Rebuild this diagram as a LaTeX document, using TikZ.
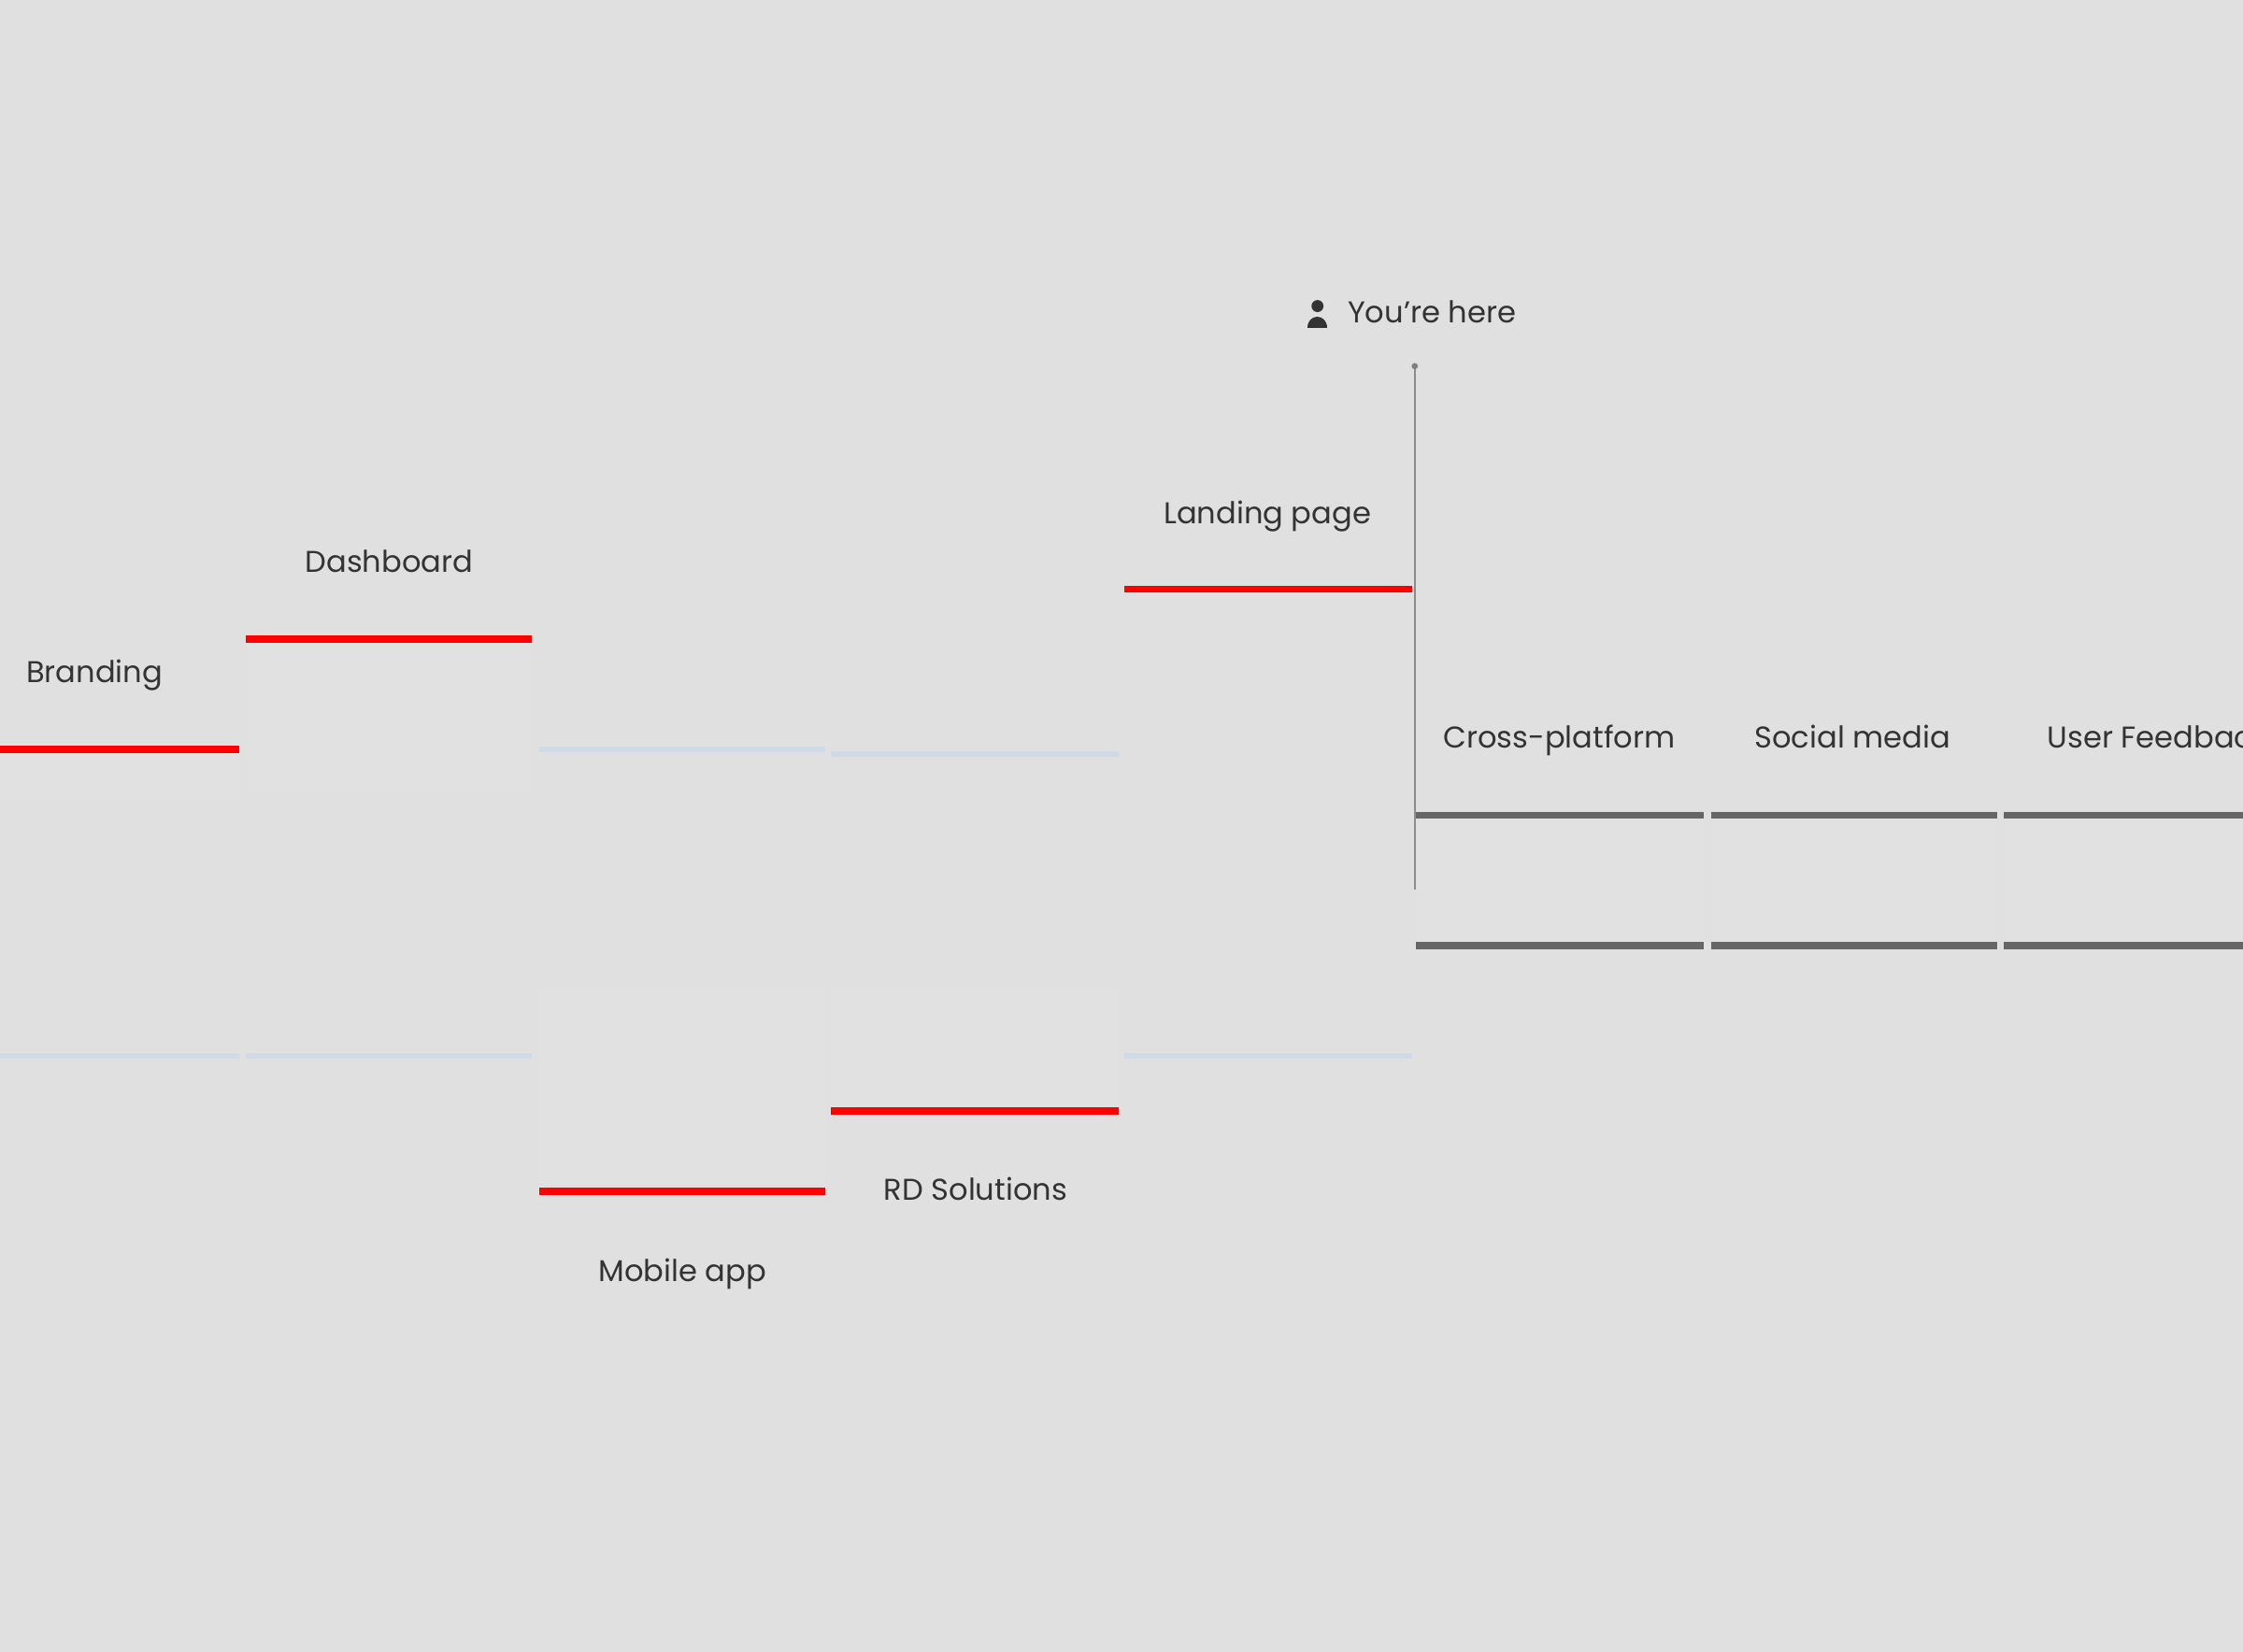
\documentclass[tikz,border=0pt]{standalone}
\usepackage{fontspec}
\setmainfont{Poppins}
\definecolor{bg}{HTML}{E0E0E0}
\definecolor{redbar}{HTML}{FF0000}
\definecolor{bluebar}{HTML}{D0D9E6}
\definecolor{darkbar}{HTML}{666666}
\definecolor{txt}{HTML}{333333}
\begin{document}
\begin{tikzpicture}[x=1pt,y=-1pt,
  lbl/.style={text=txt,font=\fontsize{21}{25}\selectfont,inner sep=0pt,anchor=base,yshift=-7pt},
  rbar/.style={redbar,line width=5pt},
  bbar/.style={bluebar,line width=4pt},
  dbar/.style={darkbar,line width=5pt},
  fade/.style={fill=white,opacity=0.06}]
\useasboundingbox (0,0) rectangle (1568,1155);
\clip (0,0) rectangle (1568,1155);
\fill[bg] (0,0) rectangle (1568,1155);
% faint fades
\fill[fade] (172,450) rectangle (372,555);
\fill[fade] (377,690) rectangle (577,830);
\fill[fade] (581,690) rectangle (782,773);
\fill[fade] (0,527) rectangle (167,560);
\fill[fade] (990,573) rectangle (1191,658);
\fill[fade] (1196,573) rectangle (1396,658);
\fill[fade] (1401,573) rectangle (1568,658);
% blue faint lines
\draw[bbar] (0,738) -- (167,738);
\draw[bbar] (172,738) -- (372,738);
\draw[bbar] (786,738) -- (987,738);
\draw[bbar] (377,524) -- (577,524);
\draw[bbar] (581,527) -- (782,527);
% red bars
\draw[rbar] (0,524) -- (167,524);
\draw[rbar] (172,447) -- (372,447);
\draw[rbar] (377,833) -- (577,833);
\draw[rbar] (581,777) -- (782,777);
\draw[rbar] (786,412) -- (987,412);
% dark bars
\foreach \a/\b in {990/1191,1196/1396,1401/1568}{
  \draw[dbar] (\a,570) -- (\b,570);
  \draw[dbar] (\a,661) -- (\b,661);}
% labels
\node[lbl] (branding) at (66,470) {Branding};
\node[lbl] (dash) at (272,393) {Dashboard};
\node[lbl] (mobile) at (477,889) {Mobile app};
\node[lbl] (rd) at (682,832) {RD Solutions};
\node[lbl] (landing) at (886,359) {Landing page};
\node[lbl] (cross) at (1090,516) {Cross-platform};
\node[lbl] (social) at (1295,516) {Social media};
\node[lbl,anchor=base west] (user) at (1431,516) {User Feedback};
% you're here
\coordinate (top) at (989,256);
\coordinate (bot) at (989,622);
\draw[gray!90,line width=1pt] (top) -- (bot);
\fill[gray] (top) circle (2.2);
\fill[txt] (921,214) circle (4.2);
\fill[txt] (914,229) .. controls (914,219) and (928,219) .. (928,229) -- cycle;
\node[lbl,anchor=base west] (here) at (942,219) {You\char"27 re here};
\end{tikzpicture}
\end{document}
